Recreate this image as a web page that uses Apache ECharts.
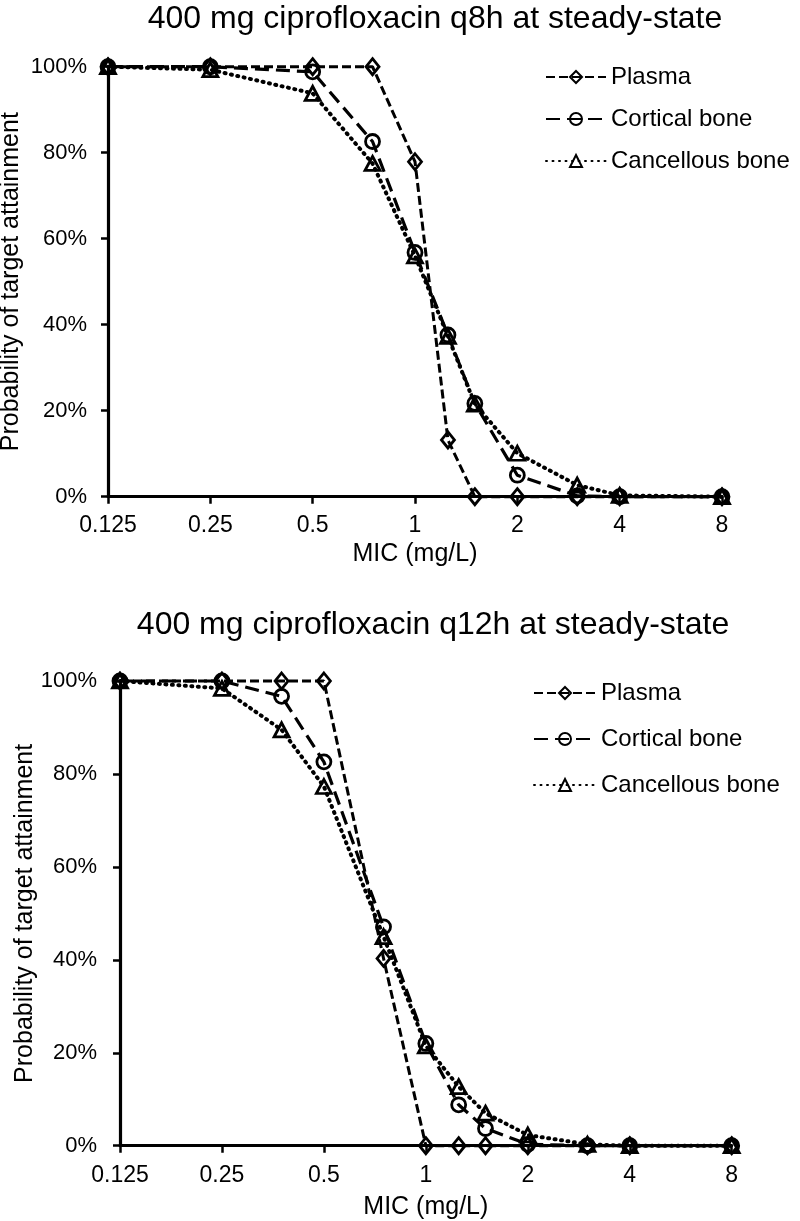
<!DOCTYPE html>
<html>
<head>
<meta charset="utf-8">
<script src="https://cdn.jsdelivr.net/npm/echarts@6/dist/echarts.min.js"></script>
<style>
html,body{margin:0;padding:0;background:#fff;}
#chart{width:800px;height:1221px;}
</style>
</head>
<body>
<div id="chart"></div>
<script>
// ---------- data ----------
const titles = ['400 mg ciprofloxacin q8h at steady-state', '400 mg ciprofloxacin q12h at steady-state'];
const seriesNames = ['Plasma', 'Cortical bone', 'Cancellous bone'];
const xTickLabels = ['0.125', '0.25', '0.5', '1', '2', '4', '8'];

// Top chart (q8h)
const micQ8 = [0.125, 0.25, 0.5, 0.75, 1, 1.25, 1.5, 2, 3, 4, 8];
const plasmaQ8 = [100, 100, 100, 100, 77.9, 13.2, 0, 0, 0, 0, 0];
const corticalQ8 = [100, 100, 98.8, 82.6, 56.8, 37.6, 21.7, 5.0, 0.2, 0, 0];
const cancellousQ8 = [100, 99.3, 93.8, 77.5, 56.0, 37.3, 21.5, 10.1, 2.7, 0.3, 0];

// Bottom chart (q12h)
const micQ12 = [0.125, 0.25, 0.375, 0.5, 0.75, 1, 1.25, 1.5, 2, 3, 4, 8];
const plasmaQ12 = [100, 100, 100, 100, 40.3, 0, 0, 0, 0, 0, 0, 0];
const corticalQ12 = [100, 100, 96.7, 82.6, 47.1, 22.0, 8.8, 3.7, 0.3, 0, 0, 0];
const cancellousQ12 = [100, 98.4, 89.5, 77.3, 45.0, 21.5, 12.7, 7.0, 2.3, 0.3, 0, 0];

// ---------- styles ----------
const FONT = '"Liberation Sans", Arial, sans-serif';
const styles = [
  {symbol: 'diamond', symbolSize: [13, 16], lineStyle: {type: [9, 4], width: 3}},
  {symbol: 'circle', symbolSize: 14, lineStyle: {type: [14, 7], width: 3.2}},
  {symbol: 'triangle', symbolSize: [15, 14], lineStyle: {type: [1, 5.5], width: 4, cap: 'round'}}
];

function pairs(xs, ys) { return xs.map((x, i) => [x, ys[i]]); }

function makeSeries(idx, xs, ysList) {
  return ysList.map((ys, k) => ({
    name: seriesNames[k],
    type: 'line',
    xAxisIndex: idx,
    yAxisIndex: idx,
    data: pairs(xs, ys),
    symbol: styles[k].symbol,
    symbolSize: styles[k].symbolSize,
    clip: false,
    lineStyle: Object.assign({color: '#000'}, styles[k].lineStyle),
    itemStyle: {color: 'rgba(255,255,255,0)', borderColor: '#000', borderWidth: 2.8},
    emphasis: {disabled: true},
    animation: false,
    z: 3 - k
  }));
}

const grids = [
  {left: 108, top: 66.7, width: 614, height: 430, containLabel: false, outerBoundsMode: 'none'},
  {left: 120, top: 681, width: 611.7, height: 464.7, containLabel: false, outerBoundsMode: 'none'}
];

function xAxis(idx) {
  return {
    type: 'log', logBase: 2, gridIndex: idx,
    min: 0.125, max: 8, interval: 1,
    name: 'MIC (mg/L)', nameLocation: 'middle', nameGap: idx === 0 ? 45 : 49,
    nameMoveOverlap: false,
    nameTextStyle: {fontFamily: FONT, fontSize: 25, color: '#000'},
    axisLine: {show: true, lineStyle: {color: '#000', width: 3.2}},
    axisTick: {show: true, length: 7, lineStyle: {color: '#000', width: 2.5}},
    axisLabel: {
      fontFamily: FONT, fontSize: 23, color: '#000', margin: idx === 0 ? 17 : 18,
      formatter: v => { const s = String(+(+v).toPrecision(6)); return xTickLabels.indexOf(s) >= 0 ? s : ''; }
    },
    splitLine: {show: false},
    minorTick: {show: false}
  };
}

function yAxis(idx) {
  return {
    type: 'value', gridIndex: idx, min: 0, max: 100, interval: 20,
    name: 'Probability of target attainment', nameLocation: 'middle', nameGap: idx === 0 ? 84 : 82,
    nameMoveOverlap: false,
    nameTextStyle: {fontFamily: FONT, fontSize: 25, color: '#000'},
    axisLine: {show: true, lineStyle: {color: '#000', width: 3.2}},
    axisTick: {show: true, length: 7, lineStyle: {color: '#000', width: 2.5}},
    axisLabel: {fontFamily: FONT, fontSize: 22, color: '#000', margin: idx === 0 ? 21 : 23, formatter: '{value}%'},
    splitLine: {show: false}
  };
}

const option = {
  backgroundColor: '#fff',
  animation: false,
  title: [
    {text: titles[0], left: 430, top: -2, textAlign: 'center',
     textStyle: {fontFamily: FONT, fontSize: 32, fontWeight: 'normal', color: '#000'}},
    {text: titles[1], left: 428, top: 604, textAlign: 'center',
     textStyle: {fontFamily: FONT, fontSize: 32, fontWeight: 'normal', color: '#000'}}
  ],
  legend: [
    {orient: 'vertical', left: 540, top: 60, itemWidth: 60, itemHeight: 15, itemGap: 18,
     data: seriesNames, textStyle: {fontFamily: FONT, fontSize: 24, color: '#000'}, selectedMode: false},
    {orient: 'vertical', left: 528, top: 676, itemWidth: 62, itemHeight: 15, itemGap: 22,
     data: seriesNames, textStyle: {fontFamily: FONT, fontSize: 24, color: '#000'}, selectedMode: false}
  ],
  grid: grids,
  xAxis: [xAxis(0), xAxis(1)],
  yAxis: [yAxis(0), yAxis(1)],
  series: [].concat(
    makeSeries(0, micQ8, [plasmaQ8, corticalQ8, cancellousQ8]),
    makeSeries(1, micQ12, [plasmaQ12, corticalQ12, cancellousQ12])
  )
};

const chart = echarts.init(document.getElementById('chart'), null, {renderer: 'canvas'});
chart.setOption(option);
</script>
</body>
</html>
